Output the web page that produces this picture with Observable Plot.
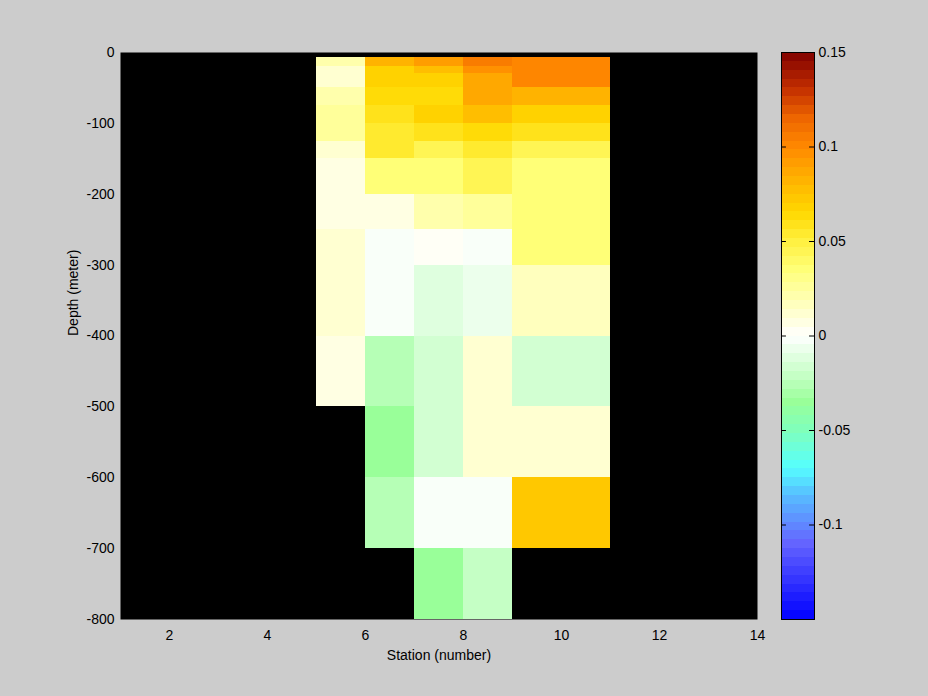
<!DOCTYPE html>
<html><head><meta charset="utf-8">
<script src="https://cdn.jsdelivr.net/npm/d3@7"></script>
<script src="https://cdn.jsdelivr.net/npm/@observablehq/plot@0.6"></script>
<style>
html,body{margin:0;padding:0;background:#cccccc;}
#wrap{position:relative;width:928px;height:696px;background:#cccccc;overflow:hidden;}
#wrap svg{position:absolute;left:0;top:0;}
</style></head><body><div id="wrap"></div>
<script>
// Station cell edges (pcolor grid) and depth cell edges (m)
const stationEdges = [5, 6, 7, 8, 9, 11];
const depthEdges = [7, 20, 30, 50, 75, 100, 125, 150, 200, 250, 300, 400, 500, 600, 700, 800];

// Values per station column, one per depth interval (null = no data)
const st5 = [0.023, 0.014, 0.014, 0.022, 0.024, 0.024, 0.013, 0.009, 0.009, 0.010, 0.010, 0.005, null, null, null];
const st6 = [0.082, 0.066, 0.066, 0.063, 0.058, 0.054, 0.053, 0.037, 0.006, -0.003, -0.003, -0.025, -0.034, -0.025, null];
const st7 = [0.090, 0.076, 0.066, 0.064, 0.067, 0.057, 0.046, 0.036, 0.019, 0.002, -0.013, -0.017, -0.017, -0.002, -0.036];
const st8 = [0.104, 0.097, 0.088, 0.085, 0.079, 0.061, 0.055, 0.046, 0.026, -0.003, -0.008, 0.012, 0.014, -0.002, -0.022];
const st9 = [0.100, 0.100, 0.099, 0.083, 0.066, 0.057, 0.046, 0.037, 0.037, 0.034, 0.015, -0.017, 0.010, 0.074, null];
const columns = [st5, st6, st7, st8, st9];

const xTicks = [2, 4, 6, 8, 10, 12, 14];
const yTicks = [0, -100, -200, -300, -400, -500, -600, -700, -800];
const cbarTicks = [0.15, 0.1, 0.05, 0, -0.05, -0.1];

// Colormap anchors
const cmapStops = [-0.15, -0.11, -0.1, -0.085, -0.07, -0.05, -0.035, -0.02, 0, 0.02, 0.035, 0.05, 0.065, 0.08, 0.1, 0.115, 0.13, 0.15];
const cmapColors = ["#0000ff", "#6464ff", "#6088ff", "#58bbff", "#55ffff", "#80ffbb", "#99ff99", "#c8ffc8", "#ffffff", "#ffffb0", "#ffff78", "#fff040", "#ffd800", "#ffb800", "#ff8800", "#ee6600", "#c43000", "#800000"];
const nLevels = 64;

const cells = [];
columns.forEach((col, i) => col.forEach((v, j) => {
  if (v != null) cells.push({x1: stationEdges[i], x2: stationEdges[i + 1], y1: -depthEdges[j], y2: -depthEdges[j + 1], v});
}));

const interp = d3.scaleLinear().domain(cmapStops).range(cmapColors).interpolate(d3.interpolateRgb);
const cmap = d3.range(nLevels).map(i => interp(-0.15 + (i + 0.5) * 0.3 / nLevels));
const colorOpts = {type: "quantize", domain: [-0.15, 0.15], range: cmap};
const levels = d3.range(nLevels).map(i => ({lo: -0.15 + i * 0.3 / nLevels, hi: -0.15 + (i + 1) * 0.3 / nLevels}));

const font = "14px 'Liberation Sans', Arial, sans-serif";

const main = Plot.plot({
  width: 928, height: 696,
  marginLeft: 120, marginRight: 171, marginTop: 52, marginBottom: 77,
  style: {background: "transparent", font, color: "black"},
  x: {domain: [1, 14]},
  y: {domain: [-800, 0]},
  color: colorOpts,
  marks: [
    Plot.frame({fill: "black"}),
    Plot.rect(cells, {x1: "x1", x2: "x2", y1: "y1", y2: "y2", fill: "v", shapeRendering: "crispEdges"}),
    Plot.axisX(xTicks, {tickSize: 0, tickPadding: 11, label: null, fontSize: 14}),
    Plot.axisY(yTicks, {tickSize: 0, tickPadding: 6, label: null, fontSize: 14, tickFormat: d => String(d)}),
    Plot.text(["Station (number)"], {frameAnchor: "bottom", dy: 40, fontSize: 14, fill: "black"}),
    Plot.text(["Depth (meter)"], {frameAnchor: "left", dx: -47, rotate: -90, fontSize: 14, fill: "black"})
  ]
});

const cbar = Plot.plot({
  width: 928, height: 696,
  marginLeft: 781, marginRight: 114, marginTop: 52, marginBottom: 77,
  style: {background: "transparent", font, color: "black"},
  x: {domain: [0, 1], axis: null},
  y: {domain: [-0.15, 0.15]},
  color: colorOpts,
  marks: [
    Plot.rect(levels, {x1: 0, x2: 1, y1: "lo", y2: "hi", fill: d => (d.lo + d.hi) / 2, shapeRendering: "crispEdges"}),
    Plot.ruleY(cbarTicks, {x1: 0, x2: 0.15, stroke: "black"}),
    Plot.ruleY(cbarTicks, {x1: 0.85, x2: 1, stroke: "black"}),
    Plot.frame({stroke: "black"}),
    Plot.axisY(cbarTicks, {anchor: "right", tickSize: 0, tickPadding: 4, label: null, fontSize: 14, tickFormat: d => String(d)})
  ]
});

const wrap = document.getElementById("wrap");
wrap.appendChild(main);
wrap.appendChild(cbar);
</script>
</body></html>
